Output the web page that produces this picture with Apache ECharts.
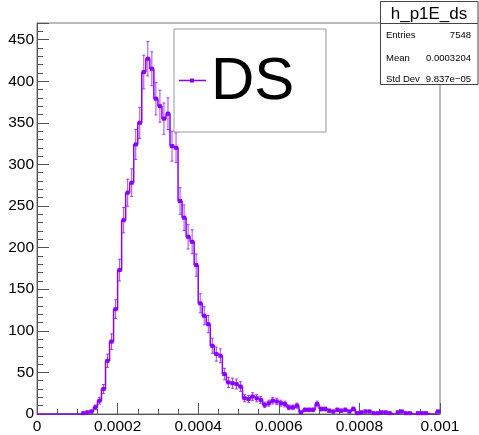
<!DOCTYPE html>
<html>
<head>
<meta charset="utf-8">
<script src="https://cdn.jsdelivr.net/npm/echarts@6/dist/echarts.min.js"></script>
<style>
html,body{margin:0;padding:0;background:#fff;}
#chart{width:479px;height:435px;}
</style>
</head>
<body>
<div id="chart"></div>
<script>
// Histogram h_p1E_ds: 100 bins from 0 to 0.001
const xMin = 0;
const xMax = 0.001;
const counts = [
  0, 0, 0, 0, 0, 0, 0, 0, 0, 0,
  0, 1, 2, 3, 8, 16, 30, 64, 87, 126,
  173, 233, 266, 278, 324, 350, 411, 427, 415, 379,
  370, 355, 361, 322, 320, 256, 236, 213, 207, 179,
  133, 118, 108, 82, 72, 70, 48, 38, 37, 36,
  33, 19, 18, 21, 19, 17, 11, 13, 16, 15,
  13, 12, 8, 8, 10, 2, 5, 5, 5, 12,
  6, 6, 4, 3, 5, 4, 5, 3, 6, 1,
  2, 3, 3, 1, 1, 2, 2, 1, 0, 2,
  3, 1, 1, 0, 1, 1, 1, 0, 0, 3
];
const yTicks = [0, 50, 100, 150, 200, 250, 300, 350, 400, 450];
const xTicks = ['0', '0.0002', '0.0004', '0.0006', '0.0008', '0.001'];
const statsTitle = 'h_p1E_ds';
const statsRows = [['Entries', '7548'], ['Mean', '0.0003204'], ['Std Dev', '9.837e\u221205']];
const legendLabel = 'DS';

const COLOR = '#8a00ff';
const nBins = counts.length;
const bw = (xMax - xMin) / nBins;
const centers = counts.map((c, i) => xMin + (i + 0.5) * bw);
const stepData = [[xMin, counts[0]]].concat(counts.map((c, i) => [centers[i], c])).concat([[xMax, counts[nBins - 1]]]);
const markerData = counts.map((c, i) => [centers[i], c]);

const chart = echarts.init(document.getElementById('chart'), null, {renderer: 'canvas'});
const FONT = 'Liberation Sans, Arial, sans-serif';

chart.setOption({
  animation: false,
  backgroundColor: '#fff',
  grid: {left: 37, top: 23, width: 403, height: 393, show: true, borderColor: '#777', borderWidth: 1, backgroundColor: 'transparent'},
  xAxis: {
    type: 'value', min: xMin, max: xMax, interval: 0.0002,
    axisLine: {show: true, onZero: false, lineStyle: {color: '#555', width: 1}},
    axisTick: {show: true, inside: true, length: 11, lineStyle: {color: '#555'}},
    minorTick: {show: true, splitNumber: 4, length: 5, lineStyle: {color: '#555'}},
    splitLine: {show: false},
    axisLabel: {
      margin: 5, fontSize: 15.5, color: '#000', fontFamily: FONT,
      formatter: v => { const k = Math.round(v / 0.0002); return xTicks[k] !== undefined ? xTicks[k] : ''; },
      showMaxLabel: true, showMinLabel: true
    }
  },
  yAxis: {
    type: 'value', min: 0, max: 470, interval: 50,
    axisLine: {show: true, onZero: false, lineStyle: {color: '#555', width: 1}},
    axisTick: {show: true, inside: true, length: 12, lineStyle: {color: '#555'}},
    minorTick: {show: true, splitNumber: 5, length: 6, lineStyle: {color: '#555'}},
    splitLine: {show: false},
    axisLabel: {
      margin: 3, fontSize: 15.5, color: '#000', fontFamily: FONT,
      formatter: v => (yTicks.indexOf(v) >= 0 ? String(v) : ''),
      showMaxLabel: false
    }
  },
  series: [
    {
      type: 'line', data: stepData, step: 'middle', symbol: 'none',
      lineStyle: {color: COLOR, width: 1.5}, z: 3
    },
    {
      type: 'custom', data: markerData, z: 4,
      renderItem: (params, api) => {
        const x = api.value(0), c = api.value(1);
        if (!(c > 0)) return null;
        const e = Math.sqrt(c);
        const p = api.coord([x, c]);
        const hi = api.coord([x, c + e]);
        const lo = api.coord([x, Math.max(0, c - e)]);
        return {
          type: 'group',
          children: [
            {type: 'line', shape: {x1: p[0], y1: lo[1], x2: p[0], y2: hi[1]}, style: {stroke: COLOR, lineWidth: 1, opacity: 0.75}},
            {type: 'line', shape: {x1: p[0] - 1.5, y1: hi[1], x2: p[0] + 1.5, y2: hi[1]}, style: {stroke: COLOR, lineWidth: 1, opacity: 0.75}},
            {type: 'line', shape: {x1: p[0] - 1.5, y1: lo[1], x2: p[0] + 1.5, y2: lo[1]}, style: {stroke: COLOR, lineWidth: 1, opacity: 0.75}},
            {type: 'rect', shape: {x: p[0] - 2, y: p[1] - 2, width: 4, height: 4}, style: {fill: COLOR}}
          ]
        };
      }
    }
  ],
  graphic: [
    // legend box
    {type: 'rect', left: 173.5, top: 28.5, shape: {width: 152, height: 103}, style: {fill: '#fff', stroke: '#999', lineWidth: 1}, z: 10},
    {type: 'line', shape: {x1: 179, y1: 80.5, x2: 206, y2: 80.5}, style: {stroke: COLOR, lineWidth: 1.5}, z: 11},
    {type: 'rect', shape: {x: 190, y: 78.5, width: 4, height: 4}, style: {fill: COLOR}, z: 11},
    {type: 'text', x: 211, y: 82, style: {text: legendLabel, font: '60px ' + FONT, fill: '#000', textVerticalAlign: 'middle', textAlign: 'left'}, z: 11},
    // stats box
    {type: 'rect', shape: {x: 380.5, y: 1.5, width: 97.5, height: 83}, style: {fill: '#fff', stroke: '#444', lineWidth: 1}, z: 10},
    {type: 'line', shape: {x1: 380.5, y1: 23.5, x2: 478, y2: 23.5}, style: {stroke: '#444', lineWidth: 1}, z: 11},
    {type: 'text', x: 429, y: 14, style: {text: statsTitle, font: '17px ' + FONT, fill: '#000', textAlign: 'center', textVerticalAlign: 'middle'}, z: 11},
    {type: 'text', x: 386, y: 35, style: {text: statsRows[0][0], font: '9.5px ' + FONT, fill: '#000', textAlign: 'left', textVerticalAlign: 'middle'}, z: 11},
    {type: 'text', x: 471, y: 35, style: {text: statsRows[0][1], font: '9.5px ' + FONT, fill: '#000', textAlign: 'right', textVerticalAlign: 'middle'}, z: 11},
    {type: 'text', x: 386, y: 58, style: {text: statsRows[1][0], font: '9.5px ' + FONT, fill: '#000', textAlign: 'left', textVerticalAlign: 'middle'}, z: 11},
    {type: 'text', x: 471, y: 58, style: {text: statsRows[1][1], font: '9.5px ' + FONT, fill: '#000', textAlign: 'right', textVerticalAlign: 'middle'}, z: 11},
    {type: 'text', x: 386, y: 79, style: {text: statsRows[2][0], font: '9.5px ' + FONT, fill: '#000', textAlign: 'left', textVerticalAlign: 'middle'}, z: 11},
    {type: 'text', x: 471, y: 79, style: {text: statsRows[2][1], font: '9.5px ' + FONT, fill: '#000', textAlign: 'right', textVerticalAlign: 'middle'}, z: 11}
  ]
});
</script>
</body>
</html>
